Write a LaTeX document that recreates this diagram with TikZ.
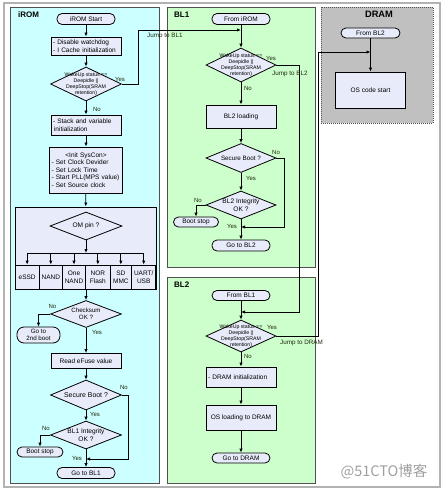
\documentclass[tikz,border=0pt]{standalone}
\usepackage{fontspec}
\setmainfont{Liberation Sans}
\newfontfamily\cjk{Noto Sans CJK SC}
\usetikzlibrary{shapes.geometric,arrows.meta}
\definecolor{romc}{RGB}{204,255,255}
\definecolor{blc}{RGB}{204,255,204}
\definecolor{dramc}{RGB}{192,192,192}
\definecolor{boxc}{RGB}{232,236,250}
\definecolor{edgec}{RGB}{80,80,80}
\definecolor{lblc}{RGB}{30,40,10}
\begin{document}
\begin{tikzpicture}[x=1pt,y=-1pt,
  panel/.style={draw=edgec,line width=1pt},
  ptitle/.style={font=\bfseries\fontsize{8}{9}\selectfont,anchor=west,inner sep=0pt},
  procbox/.style={draw=black,fill=boxc,line width=0.9pt,minimum width=70pt,inner sep=2pt,align=center,font=\fontsize{6.5}{7.8}\selectfont},
  lbox/.style={draw=black,fill=boxc,line width=0.9pt,text width=66pt,inner sep=2pt,align=left,font=\fontsize{6.5}{7.6}\selectfont},
  term/.style={draw=black,fill=boxc,line width=0.8pt,rounded corners=5pt,minimum width=58pt,minimum height=11pt,inner sep=0pt,align=center,font=\fontsize{6.5}{7.5}\selectfont},
  dec/.style={draw=black,fill=boxc,line width=0.8pt,diamond,inner sep=0pt,minimum width=71pt,minimum height=34pt},
  dtext/.style={font=\fontsize{5.2}{6}\selectfont,align=center,inner sep=0pt},
  dlab/.style={font=\fontsize{6.6}{7.6}\selectfont,align=center,inner sep=0pt},
  opt/.style={draw=black,fill=boxc,line width=0.8pt,minimum height=24pt,inner sep=0pt,align=center,font=\fontsize{6.5}{7.6}\selectfont},
  lbl/.style={font=\fontsize{6}{7}\selectfont,text=lblc,inner sep=0.5pt},
  jlbl/.style={font=\fontsize{6.3}{7}\selectfont,text=lblc,inner sep=0pt,anchor=west},
  arr/.style={-{Latex[length=4pt,width=3.4pt]},line width=0.8pt},
  ln/.style={line width=0.8pt}
]
\useasboundingbox (0,0) rectangle (443,490);
\draw[gray!60,line width=1.2pt] (4,3) rectangle (440,487);
% panels
\draw[panel,fill=romc] (10,7) rectangle (159,483);
\draw[panel,fill=blc] (167,7) rectangle (315,267);
\draw[panel,fill=blc] (167,277) rectangle (315,483);
\draw[panel,fill=dramc,densely dotted] (321,7) rectangle (433,123);
\node[ptitle] (tirom) at (18,15) {iROM};
\node[ptitle] (tbl1) at (174,15) {BL1};
\node[ptitle] (tbl2) at (174,285) {BL2};
\node[font=\bfseries\fontsize{9.3}{10}\selectfont,inner sep=0pt] (tdram) at (379,14) {DRAM};

% ---------- iROM ----------
\node[term] (rs) at (86,19) {iROM Start};
\node[lbox,minimum height=18pt] (b1) at (86,46) {- Disable watchdog\\- I Cache initialization};
\node[dec] (d1) at (86,84) {};
\node[dtext] (d1t) at (d1) {WakeUp status ==\\Deepidle ||\\DeepStop(SRAM\\retention)};
\node[lbox,minimum height=20pt] (b2) at (86,125) {- Stack and variable\\\hspace*{1pt}initialization};
\node[lbox,text width=69pt,minimum height=46pt,font=\fontsize{6.5}{7.5}\selectfont] (b3) at (86,170)
  {\makebox[69pt][c]{<Init SysCon>}\\- Set Clock Devider\\- Set Lock Time\\- Start PLL(MPS value)\\- Set Source clock};
\node[draw=black,fill=boxc,line width=0.9pt,minimum width=141pt,minimum height=82pt,inner sep=0pt] (om) at (85.5,248) {};
\node[dec,minimum height=28pt,minimum width=72pt] (omd) at (86,226) {};
\node[dlab] (omdt) at (omd) {OM pin ?};
\coordinate (bus) at (86,253);
\node[opt,minimum width=24.3pt] (o1) at (27.15,277) {eSSD};
\node[opt,minimum width=23pt] (o2) at (50.8,277) {NAND};
\node[opt,minimum width=23.4pt] (o3) at (74,277) {One\\NAND};
\node[opt,minimum width=24.3pt] (o4) at (97.85,277) {NOR\\Flash};
\node[opt,minimum width=21.7pt] (o5) at (120.85,277) {SD\\MMC};
\node[opt,minimum width=24pt] (o6) at (143.7,277) {UART/\\USB};
\node[dec,minimum height=27pt] (ck) at (86,314) {};
\node[dlab,font=\fontsize{6.2}{7}\selectfont] (ckt) at (ck) {Checksum\\OK ?};
\node[term,minimum width=43pt,minimum height=16pt,rounded corners=7pt,font=\fontsize{6.2}{7.2}\selectfont] (g2b) at (38.5,335) {Go to\\2nd boot};
\node[procbox,minimum height=15pt] (ef) at (86,361) {Read eFuse value};
\node[dec,minimum height=30pt] (sb) at (86,395) {};
\node[dlab,font=\fontsize{6.9}{8}\selectfont] (sbt) at (sb) {Secure Boot ?};
\node[dec,minimum height=28pt] (bi) at (86,435) {};
\node[dlab] (bit) at (bi) {BL1 Integrity\\OK ?};
\node[term,minimum width=46pt,minimum height=10pt] (bs) at (40,452) {Boot stop};
\node[term] (gb1) at (86,473) {Go to BL1};

% ---------- BL1 ----------
\node[term] (fi) at (241,19) {From iROM};
\node[dec,minimum width=70pt] (d2) at (241,65) {};
\node[dtext] (d2t) at (d2) {WakeUp status ==\\Deepidle ||\\DeepStop(SRAM\\retention)};
\node[procbox,minimum height=23pt] (bl2l) at (241,116.5) {BL2 loading};
\node[dec,minimum width=70pt,minimum height=29pt] (sb2) at (241,158) {};
\node[dlab,font=\fontsize{6.3}{7.5}\selectfont] (sb2t) at (sb2) {Secure Boot ?};
\node[dec,minimum width=70pt,minimum height=28pt] (bi2) at (241,205) {};
\node[dlab] (bi2t) at (bi2) {BL2 Integrity\\OK ?};
\node[term,minimum width=45pt,minimum height=10pt] (bs2) at (196,222) {Boot stop};
\node[term] (gb2) at (241,245.5) {Go to BL2};

% ---------- BL2 ----------
\node[term,minimum height=10pt] (fb1) at (241,295.5) {From BL1};
\node[dec,minimum width=70pt,minimum height=32pt] (d3) at (241,336) {};
\node[dtext] (d3t) at (d3) {WakeUp status ==\\Deepidle ||\\DeepStop(SRAM\\retention)};
\node[lbox,minimum height=20pt] (dri) at (241,377) {- DRAM initialization};
\node[procbox,minimum height=25pt] (osl) at (241,417.5) {OS loading to DRAM};
\node[term,minimum height=10pt] (gdr) at (241,458) {Go to DRAM};

% ---------- DRAM ----------
\node[term,minimum width=59pt,minimum height=10pt] (fb2) at (370.5,33) {From BL2};
\node[procbox,minimum height=36pt,line width=0.8pt] (osc) at (370.5,90) {OS code start};

% coordinates for merge points
\coordinate (j1) at (241,30);
\coordinate (j2) at (241,312);
\coordinate (j3) at (370.5,52);
\coordinate (m1) at (86,459);
\coordinate (m2) at (241,227);

% ---------- connectors iROM ----------
\draw[arr] (rs) -- (b1);
\draw[arr] (b1) -- (d1);
\draw[arr] (d1) -- (b2);
\draw[arr] (b2) -- (b3);
\draw[arr] (b3) -- (om);
\draw[arr] (omd) -- (bus);
\draw[ln] (o1.north |- bus) -- (o6.north |- bus);
\foreach \o in {o1,o2,o3,o4,o5,o6} \draw[arr] (\o.north |- bus) -- (\o.north);
\draw[arr] (om.south -| ck.north) -- (ck.north);
\draw[arr] (ck.west) -| (g2b.north);
\draw[arr] (ck) -- (ef);
\draw[arr] (ef) -- (sb);
\draw[arr] (sb.east) -- ++(6,0) |- (m1);
\draw[arr] (sb) -- (bi);
\draw[arr] (bi.west) -| (bs.north);
\draw[arr] (bi) -- (gb1);
\draw[arr] (d1.east) -- ++(16,0) |- (j1);
\node[lbl] (ly1) at (120,79) {Yes};
\node[lbl] (ln1) at (97,109) {No};
\node[jlbl] (jb1) at (147,36) {Jump to BL1};
\node[lbl] (ln2) at (52.5,306.5) {No};
\node[lbl] (ly2) at (97,332) {Yes};
\node[lbl] (ln3) at (124,387) {No};
\node[lbl] (ly3) at (95,414) {Yes};
\node[lbl] (ln4) at (46,428) {No};
\node[lbl] (ly4) at (77,458) {Yes};

% ---------- connectors BL1 ----------
\draw[arr] (fi) -- (d2);
\draw[arr] (d2.east) -- ++(23,0) |- (j2);
\draw[arr] (d2) -- (bl2l);
\draw[arr] (bl2l) -- (sb2);
\draw[arr] (sb2.east) -- ++(8,0) |- (m2);
\draw[arr] (sb2) -- (bi2);
\draw[arr] (bi2.west) -| (bs2.north);
\draw[arr] (bi2) -- (gb2);
\node[lbl] (ly5) at (271,58) {Yes};
\node[jlbl] (jb2) at (272,73.5) {Jump to BL2};
\node[lbl] (ln5) at (248,88) {No};
\node[lbl] (ln6) at (276,152) {No};
\node[lbl] (ly6) at (251,178) {Yes};
\node[lbl] (ln7) at (198,200.5) {No};
\node[lbl] (ly7) at (232,226) {Yes};

% ---------- connectors BL2 ----------
\draw[arr] (fb1) -- (d3);
\draw[arr] (d3.east) -- ++(42,0) |- (j3);
\draw[arr] (d3) -- (dri);
\draw[arr] (dri) -- (osl);
\draw[arr] (osl) -- (gdr);
\node[lbl] (ly8) at (272,327) {Yes};
\node[jlbl] (jb3) at (280,342.5) {Jump to DRAM};
\node[lbl] (ln8) at (248,356) {No};

% ---------- connectors DRAM ----------
\draw[arr] (fb2) -- (osc);

% watermark
\node[font=\cjk\fontsize{14.5}{16}\selectfont,text=gray!75,inner sep=0pt] (wm) at (384,472) {@51CTO博客};
\end{tikzpicture}
\end{document}
